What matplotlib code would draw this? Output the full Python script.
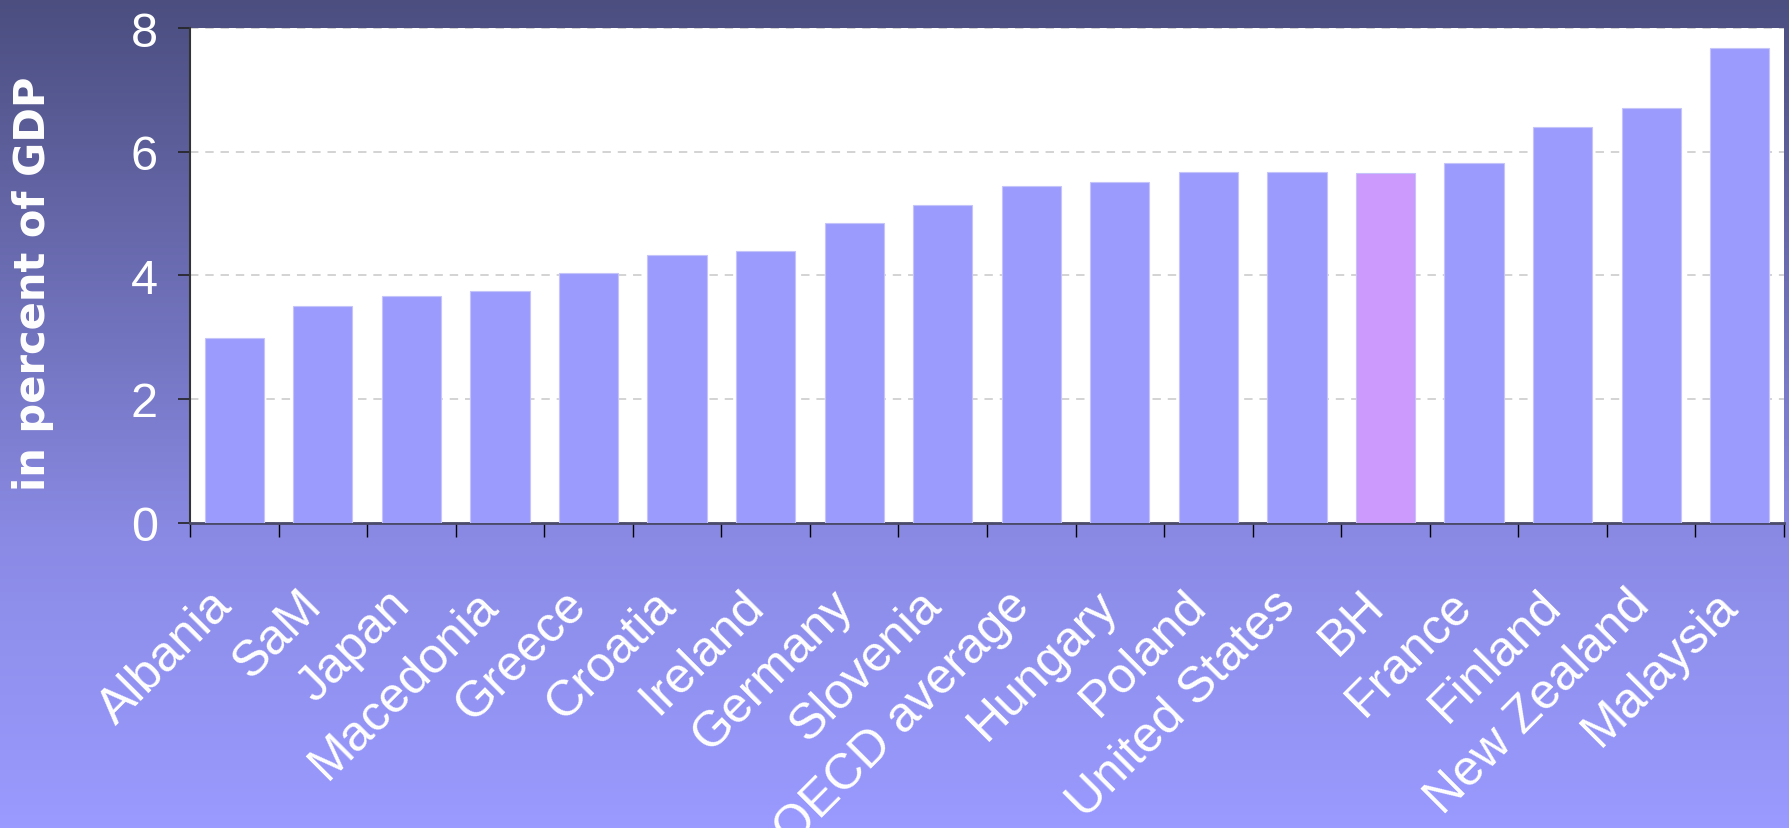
import numpy as np
from matplotlib import pyplot as plt
from matplotlib import transforms
from matplotlib.colors import LinearSegmentedColormap

# Values (percent of GDP)
countries = ['Albania', 'SaM', 'Japan', 'Macedonia', 'Greece', 'Croatia', 'Ireland',
             'Germany', 'Slovenia', 'OECD average', 'Hungary', 'Poland', 'United States',
             'BH', 'France', 'Finland', 'New Zealand', 'Malaysia']
values = [2.99, 3.51, 3.66, 3.74, 4.03, 4.33, 4.40, 4.85, 5.14, 5.44, 5.51,
          5.67, 5.67, 5.66, 5.81, 6.40, 6.70, 7.67]
highlight = 'BH'
y_ticks = [0, 2, 4, 6, 8]

bar_color = '#9b9bfd'
highlight_color = '#cc99fc'

W, H = 1789, 829
fig = plt.figure(figsize=(W / 100, H / 100), dpi=100)

# Background gradient: dark slate at the top, light periwinkle at the bottom
bg = fig.add_axes([0, 0, 1, 1], zorder=-10)
cmap = LinearSegmentedColormap.from_list(
    'bg', [(0.0, '#4b4e7f'), (0.66, '#8b8be6'), (1.0, '#9a9aff')])
bg.imshow(np.linspace(0, 1, 256).reshape(-1, 1), aspect='auto', cmap=cmap,
          extent=[0, 1, 1, 0])
bg.set_axis_off()

left, right, top, bottom = 190, 1784, 29, 523.5
ax = fig.add_axes([left / W, (H - bottom) / H, (right - left) / W, (bottom - top) / H])
ax.set_facecolor('white')

x = np.arange(len(countries))
colors = [highlight_color if c == highlight else bar_color for c in countries]
ax.bar(x, values, width=0.67, color=colors, edgecolor='#c4c4fb', linewidth=0.8, zorder=3)

ax.set_xlim(-0.5, len(countries) - 0.5)
ax.set_ylim(0, 8)
ax.set_yticks(y_ticks)
ax.set_yticklabels([str(t) for t in y_ticks])
ax.yaxis.grid(True, ls=(0, (5.5, 4.5)), color='#c8c8c8', lw=1.1, zorder=0)
ax.set_axisbelow(True)

# ticks at the category boundaries, labels at the centres
ax.set_xticks(np.arange(len(countries) + 1) - 0.5)
ax.set_xticklabels([])
ax.set_xticks(x, minor=True)
ax.set_xticklabels(countries, minor=True, rotation=45, ha='right', va='center',
                   rotation_mode='anchor', color='white', fontsize=36,
                   family='Liberation Sans')
ax.tick_params(axis='x', which='major', direction='out', length=10, width=1, color='black')
ax.tick_params(axis='x', which='minor', length=0, pad=54)
ax.tick_params(axis='y', direction='out', length=9, width=1.2, color='#222222',
               labelcolor='white', labelsize=35, pad=14)
for lbl in ax.get_yticklabels():
    lbl.set_family('Liberation Sans')

# nudge the slanted labels a little to the left
shift = transforms.ScaledTranslation(-9 / 100, 0, fig.dpi_scale_trans)
for lbl in ax.xaxis.get_minorticklabels():
    lbl.set_transform(lbl.get_transform() + shift)

for s in ['top', 'right']:
    ax.spines[s].set_visible(False)
ax.spines['left'].set_color('#333333')
ax.spines['left'].set_linewidth(1.5)
ax.spines['bottom'].set_color('#4a4a6a')
ax.spines['bottom'].set_linewidth(2)

fig.text(33 / W, 1 - 284 / H, 'in percent of GDP', rotation=90, ha='center', va='center',
         color='white', fontsize=30, fontweight='bold', family='DejaVu Sans')

fig.savefig('out.png', dpi=100)
